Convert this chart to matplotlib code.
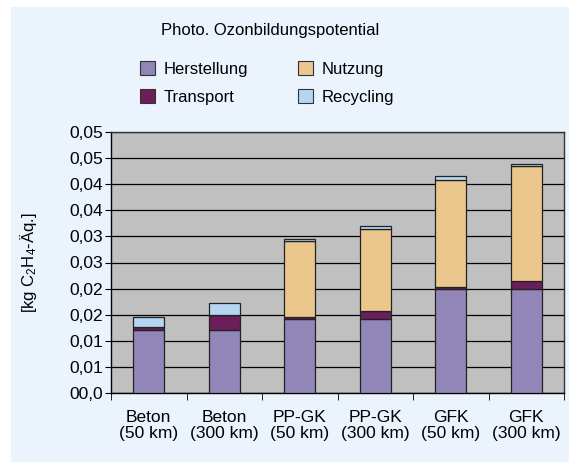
import numpy as np
import matplotlib.pyplot as plt
from matplotlib.patches import Rectangle, Patch

plt.rcParams['font.family'] = ['Liberation Sans', 'DejaVu Sans']
plt.rcParams['mathtext.default'] = 'regular'

categories = ["Beton\n(50 km)", "Beton\n(300 km)", "PP-GK\n(50 km)",
              "PP-GK\n(300 km)", "GFK\n(50 km)", "GFK\n(300 km)"]
herstellung = [0.0121, 0.0121, 0.0142, 0.0142, 0.0200, 0.0200]
transport = [0.0005, 0.0029, 0.0003, 0.0015, 0.0004, 0.0015]
nutzung = [0.0, 0.0, 0.0147, 0.0158, 0.0205, 0.0219]
recycling = [0.0020, 0.0023, 0.0003, 0.00045, 0.0006, 0.00045]

yticks = [0, 0.005, 0.01, 0.015, 0.02, 0.025, 0.03, 0.035, 0.04, 0.045, 0.05]
ytick_labels = ["00,0", "0,01", "0,01", "0,02", "0,02", "0,03",
                "0,03", "0,04", "0,04", "0,05", "0,05"]

series = [("Herstellung", herstellung, "#9285b8"),
          ("Transport", transport, "#6a1e5a"),
          ("Nutzung", nutzung, "#ebc78e"),
          ("Recycling", recycling, "#b4d6f2")]

fig = plt.figure(figsize=(5.69, 4.62), dpi=100, facecolor="white")
fig.patches.append(Rectangle((11/569, 0), 1 - 11/569, 1 - 7/462,
                             transform=fig.transFigure, facecolor="#ebf3fc",
                             edgecolor="none", zorder=-10))

ax = fig.add_axes([111/569, 1 - 393/462, 453/569, 261/462])
ax.set_facecolor("#c0c0c0")

x = np.arange(len(categories))
bottom = np.zeros(len(categories))
for name, vals, col in series:
    ax.bar(x, vals, 0.41, bottom=bottom, color=col, edgecolor="#222222",
           linewidth=0.9, zorder=3, label=name)
    bottom += np.array(vals)

ax.set_xlim(-0.5, 5.5)
ax.set_ylim(0, 0.05)
ax.set_yticks(yticks)
ax.set_yticklabels(ytick_labels, fontsize=12.5)
ax.yaxis.grid(True, color="black", linewidth=0.9, zorder=0)
ax.set_axisbelow(True)

ax.set_xticks(x)
ax.set_xticklabels(categories, fontsize=12.5, linespacing=1.15)
ax.set_xticks(np.arange(-0.5, 6, 1), minor=True)
ax.tick_params(axis="x", which="major", length=0, pad=12)
ax.tick_params(axis="x", which="minor", length=5, direction="out")
ax.tick_params(axis="y", length=4, direction="out", pad=2)

for s in ax.spines.values():
    s.set_color("#333333")
    s.set_linewidth(1.0)
ax.spines["bottom"].set_color("black")
ax.spines["left"].set_color("black")

ax.set_ylabel("[kg C$_2$H$_4$-Äq.]", fontsize=12)
ax.yaxis.set_label_coords(-0.158, 0.5)

fig.text(270/569, 1 - 31/462, "Photo. Ozonbildungspotential", ha="center",
         va="center", fontsize=12)

handles = [Patch(facecolor=c, edgecolor="#333333", linewidth=0.8, label=n)
           for n, _, c in series]
fig.legend(handles=handles, ncol=2, loc="center",
           bbox_to_anchor=(267/569, 1 - 83/462),
           frameon=False, fontsize=12, handlelength=0.9, handleheight=0.9,
           columnspacing=3.0, handletextpad=0.5, labelspacing=0.75)

fig.savefig("out.png", dpi=100, facecolor=fig.get_facecolor())
